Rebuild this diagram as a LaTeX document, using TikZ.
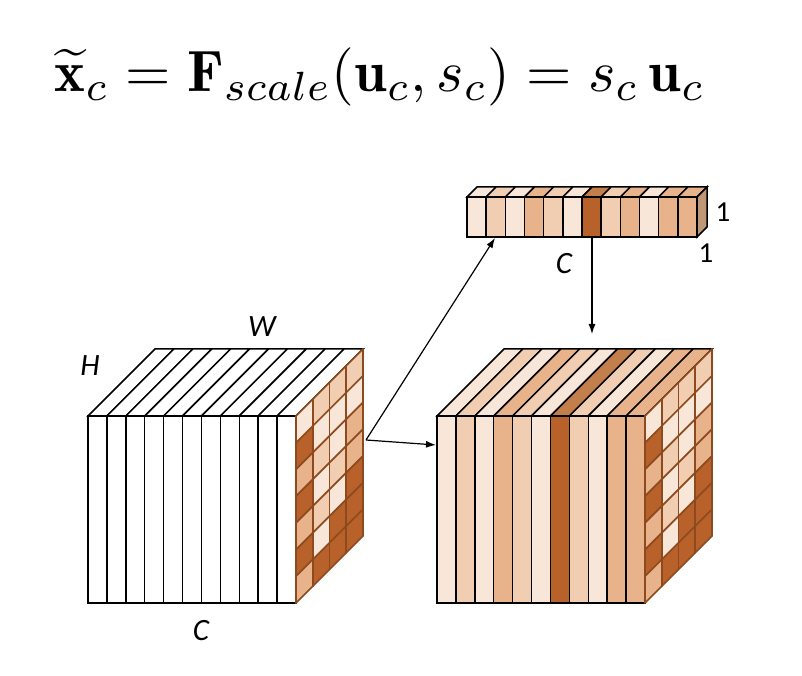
\documentclass[tikz,border=0pt]{standalone}
\usepackage{fontspec}
\usepackage{amsmath}
\usepackage{graphicx}
\usetikzlibrary{arrows.meta}
\newfontfamily\labfont{Carlito}
\definecolor{cL}{HTML}{F8E6D9}
\definecolor{cT}{HTML}{F1CDB1}
\definecolor{cM}{HTML}{E8B38A}
\definecolor{cD}{HTML}{B8612A}
\definecolor{cDtop}{HTML}{C27F4B}
\definecolor{gridline}{HTML}{8C4A1E}
\definecolor{barside}{HTML}{BF9878}
\newcommand\mysidegrid[1]{%
  \foreach \colist [count=\j from 0] in {{cL,cD,cM,cD,cM,cD,cM},{cT,cL,cT,cL,cT,cL,cD},{cT,cL,cL,cT,cL,cD,cD},{cT,cL,cM,cM,cD,cD,cD}}{%
    \foreach \cc [count=\i from 0] in \colist {%
      \fill[\cc] ({#1+\j*16.75},{260+\j*16.75-\i*26.714}) -- ++(16.75,16.75) -- ++(0,-26.714) -- ++(-16.75,-16.75) -- cycle;
    }
  }
  \foreach \j in {0,...,4}{\draw[gridstroke] ({#1+\j*16.75},{260+\j*16.75}) -- ++(0,-187);}
  \foreach \i in {0,...,7}{\draw[gridstroke] ({#1},{260-\i*26.714}) -- ++(67,67);}
}
\tikzset{
  cellstroke/.style={draw=black, line width=1.5pt, line join=miter},
  gridstroke/.style={draw=gridline, line width=1.7pt, line cap=round},
  arr/.style={-{Latex[length=10pt,width=7pt]}, line width=1.2pt},
  lab/.style={font=\labfont\itshape\fontsize{31}{34}\selectfont, inner sep=0pt},
  num/.style={font=\labfont\fontsize{29}{32}\selectfont, inner sep=0pt}
}
\begin{document}
\begin{tikzpicture}[x=1pt,y=1pt]
\useasboundingbox (0,0) rectangle (802,676);
% formula
\node (eq) [anchor=base, inner sep=0pt] at (380,584) {\resizebox{650pt}{!}{$\widetilde{\mathbf{x}}_c = \mathbf{F}_{scale}(\mathbf{u}_c, s_c) = s_c\,\mathbf{u}_c$}};
% ---------- left cube
\foreach \k in {0,...,10}{%
  \filldraw[cellstroke, fill=white] ({88+\k*18.909},260) -- ++(67,67) -- ++(18.909,0) -- ++(-67,-67) -- cycle;
  \filldraw[cellstroke, fill=white] ({88+\k*18.909},73) rectangle ++(18.909,187);
}
\mysidegrid{296}
% ---------- right cube
\foreach \cc [count=\k from 0] in {cL,cT,cL,cM,cT,cL,cDtop,cT,cL,cM,cM}{%
  \filldraw[cellstroke, fill=\cc] ({437+\k*18.909},260) -- ++(67,67) -- ++(18.909,0) -- ++(-67,-67) -- cycle;
}
\foreach \cc [count=\k from 0] in {cL,cT,cL,cM,cT,cL,cD,cT,cL,cM,cM}{%
  \filldraw[cellstroke, fill=\cc] ({437+\k*18.909},73) rectangle ++(18.909,187);
}
\mysidegrid{645}
% ---------- bar
\foreach \cc [count=\k from 0] in {cL,cT,cL,cM,cT,cL,cDtop,cT,cM,cL,cM,cM}{%
  \filldraw[cellstroke, fill=\cc] ({467+\k*19.167},479) -- ++(10,10) -- ++(19.167,0) -- ++(-10,-10) -- cycle;
}
\foreach \cc [count=\k from 0] in {cL,cT,cL,cM,cT,cL,cD,cT,cM,cL,cM,cM}{%
  \filldraw[cellstroke, fill=\cc] ({467+\k*19.167},439) rectangle ++(19.167,40);
}
\filldraw[cellstroke, fill=barside] (697,439) -- (697,479) -- (707,489) -- (707,449) -- cycle;
% ---------- arrows
\coordinate (src) at (366,236);
\coordinate (rfront) at (436,231);
\coordinate (barin) at (495,438);
\coordinate (barout) at (592,438);
\coordinate (rtop) at (592,342);
\draw[arr] (src) -- (rfront);
\draw[arr] (src) -- (barin);
\draw[arr] (barout) -- (rtop);
% ---------- labels
\node[lab] (lH) at (90,310) {H};
\node[lab] (lW) at (262,349) {W};
\node[lab] (lC1) at (201,45) {C};
\node[lab] (lC2) at (564,412) {C};
\node[num] (n1) at (723,464) {1};
\node[num] (n2) at (706,423) {1};
\end{tikzpicture}
\end{document}
